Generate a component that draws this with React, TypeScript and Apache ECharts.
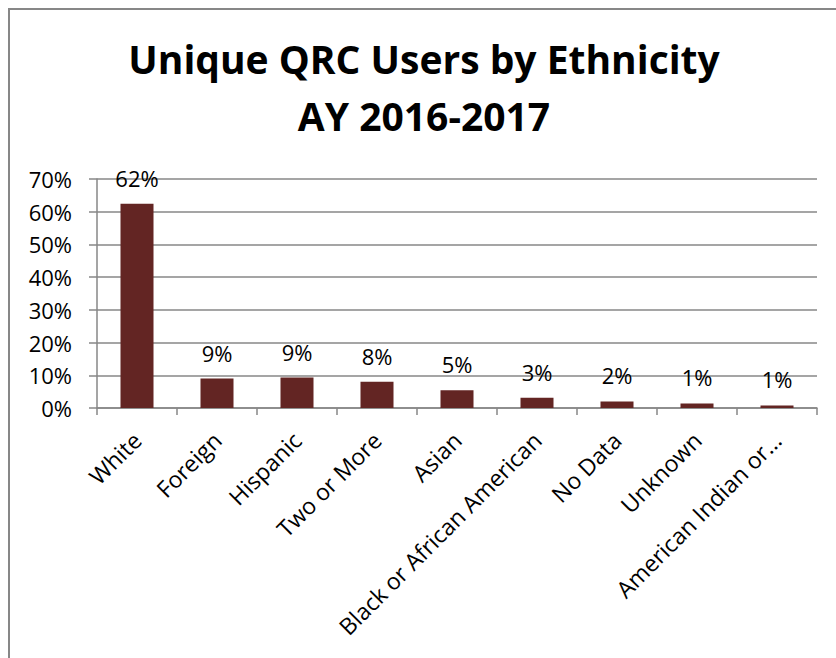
import React, { useEffect, useRef } from "react";
import * as echarts from "echarts";

const categories = [
  "White",
  "Foreign",
  "Hispanic",
  "Two or More",
  "Asian",
  "Black or African American",
  "No Data",
  "Unknown",
  "American Indian or...",
];
const shares = [0.624, 0.09, 0.093, 0.08, 0.054, 0.031, 0.02, 0.014, 0.008];
const titleLines = ["Unique QRC Users by Ethnicity", "AY 2016-2017"];
const yMax = 0.7;
const yStep = 0.1;

const FONT = "'Open Sans', 'DejaVu Sans', sans-serif";
const GRAY = "#878787";

export default function App() {
  const ref = useRef<HTMLDivElement>(null);
  useEffect(() => {
    if (!ref.current) return;
    const chart = echarts.init(ref.current, undefined, { renderer: "svg" });
    chart.setOption({
      animation: false,
      backgroundColor: "#ffffff",
      graphic: [
        {
          type: "line",
          shape: { x1: 8, y1: 9, x2: 836, y2: 9 },
          style: { stroke: GRAY, lineWidth: 2 },
          silent: true,
        },
        {
          type: "line",
          shape: { x1: 9, y1: 8, x2: 9, y2: 658 },
          style: { stroke: GRAY, lineWidth: 2 },
          silent: true,
        },
        {
          type: "text",
          x: 424,
          y: 58,
          style: {
            text: titleLines[0],
            fontFamily: FONT,
            fontWeight: "bold",
            fontSize: 39,
            fill: "#000",
            align: "center",
            verticalAlign: "middle",
          },
        },
        {
          type: "text",
          x: 424,
          y: 115,
          style: {
            text: titleLines[1],
            fontFamily: FONT,
            fontWeight: "bold",
            fontSize: 39,
            fill: "#000",
            align: "center",
            verticalAlign: "middle",
          },
        },
      ],
      grid: { left: 97, right: 19, top: 179, bottom: 250, containLabel: false },
      xAxis: {
        type: "category",
        data: categories,
        boundaryGap: true,
        axisLine: { show: true, lineStyle: { color: GRAY, width: 1.5 } },
        axisTick: { show: true, alignWithLabel: false, length: 7, lineStyle: { color: GRAY, width: 1.5 } },
        axisLabel: {
          interval: 0,
          rotate: 45,
          margin: 28,
          fontFamily: FONT,
          fontSize: 23,
          color: "#000",
          padding: [16, 0, 0, 0],
        },
      },
      yAxis: {
        type: "value",
        min: 0,
        max: yMax,
        interval: yStep,
        axisLine: { show: true, lineStyle: { color: GRAY, width: 1.5 } },
        axisTick: { show: true, length: 8, lineStyle: { color: GRAY, width: 1.5 } },
        splitLine: { show: true, lineStyle: { color: GRAY, width: 1.5 } },
        axisLabel: {
          margin: 25,
          fontFamily: FONT,
          fontSize: 22,
          color: "#000",
          formatter: (v: number) => `${Math.round(v * 100)}%`,
        },
      },
      series: [
        {
          type: "bar",
          data: shares,
          barWidth: 33,
          itemStyle: { color: "#632523" },
          label: {
            show: true,
            position: "top",
            distance: 15,
            fontFamily: FONT,
            fontSize: 22,
            color: "#000",
            formatter: (p: any) => `${Math.round(p.value * 100)}%`,
          },
        },
      ],
    });
    return () => chart.dispose();
  }, []);
  return (
    <div
      ref={ref}
      style={{ position: "absolute", left: 0, top: 0, width: 836, height: 658 }}
    />
  );
}
